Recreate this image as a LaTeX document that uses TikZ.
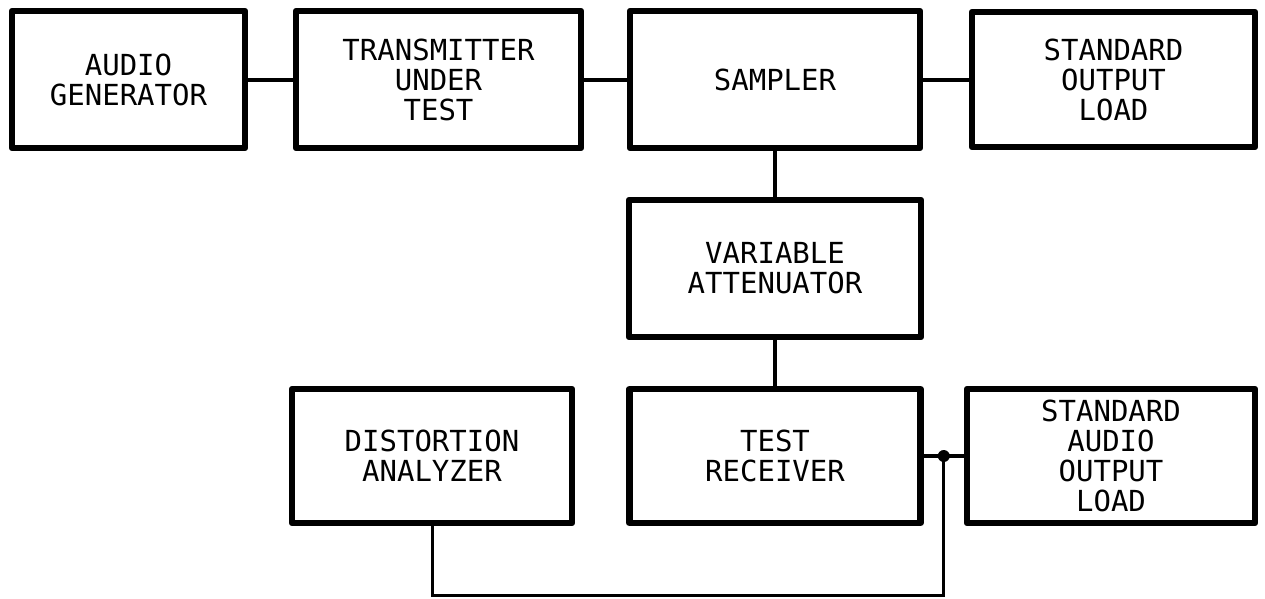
\documentclass[tikz,border=0pt]{standalone}
\usepackage{fontspec}
\setmainfont{DejaVu Sans Mono}
\usetikzlibrary{calc}
\begin{document}
\begin{tikzpicture}[x=1pt,y=-1pt,
  blk/.style={draw, line width=6.5pt, rectangle, align=center, inner sep=0pt,
    font=\fontsize{29}{30}\selectfont, line join=round},
  wire/.style={line width=4pt},
  loopwire/.style={line width=3pt}]
\useasboundingbox (0,0) rectangle (1265,598);
\node[blk, minimum width=233pt, minimum height=137pt] (ag) at (128.5,79.5) {AUDIO\\GENERATOR};
\node[blk, minimum width=285pt, minimum height=137pt] (tx) at (438.5,79.5) {TRANSMITTER\\UNDER\\TEST};
\node[blk, minimum width=290pt, minimum height=137pt] (sa) at (775,79.5) {SAMPLER};
\node[blk, minimum width=283pt, minimum height=135pt] (so) at (1113.5,79.5) {STANDARD\\OUTPUT\\LOAD};
\node[blk, minimum width=292pt, minimum height=137pt] (va) at (775,268.5) {VARIABLE\\ATTENUATOR};
\node[blk, minimum width=291pt, minimum height=134pt] (tr) at (775,456) {TEST\\RECEIVER};
\node[blk, minimum width=280pt, minimum height=134pt] (da) at (432,456) {DISTORTION\\ANALYZER};
\node[blk, minimum width=288pt, minimum height=134pt] (sao) at (1111,456) {STANDARD\\AUDIO\\OUTPUT\\LOAD};
\draw[wire] (ag.east) -- (tx.west);
\draw[wire] (tx.east) -- (sa.west);
\draw[wire] (sa.east) -- (so.west);
\draw[wire] (sa.south) -- (va.north);
\draw[wire] (va.south) -- (tr.north);
\draw[wire] (tr.east) -- (sao.west);
\coordinate (j) at ($(tr.east)!0.5!(sao.west)$);
\coordinate (b) at (j |- 0,595);
\draw[loopwire] (j) -- (b) -| (da.south);
\fill (j) circle (6pt);
\end{tikzpicture}
\end{document}
